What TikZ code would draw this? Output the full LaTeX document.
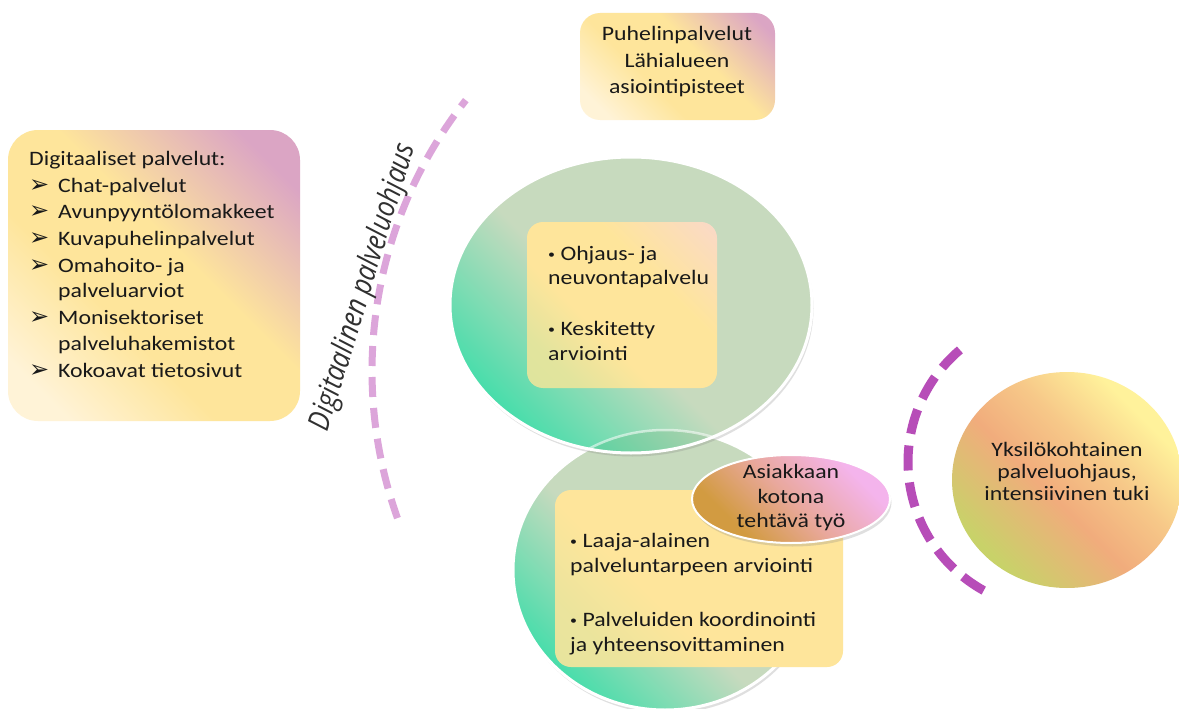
\documentclass[tikz,border=0pt]{standalone}
\usepackage{fontspec}
\setmainfont{Carlito}[FakeStretch=1.16]
\newfontfamily\dejavu{DejaVu Sans}
\newfontfamily\arcfont{Open Sans}[FakeStretch=0.85]
\usetikzlibrary{shadows}
\definecolor{sage}{RGB}{199,218,190}
\definecolor{mint}{RGB}{66,221,170}
\definecolor{byellow}{RGB}{254,229,155}
\definecolor{cream}{RGB}{255,243,215}
\definecolor{bpink}{RGB}{219,165,196}
\definecolor{peach}{RGB}{250,217,200}
\definecolor{arcA}{RGB}{220,165,218}
\definecolor{arcB}{RGB}{183,77,184}
\definecolor{asigold}{RGB}{210,155,65}
\definecolor{asimid}{RGB}{233,168,156}
\definecolor{asipink}{RGB}{244,180,236}
\definecolor{ryellow}{RGB}{255,242,155}
\definecolor{rorange}{RGB}{241,172,124}
\definecolor{rgreen}{RGB}{200,210,105}
\definecolor{txt}{RGB}{25,25,25}
\pgfdeclareverticalshading{greensh}{100bp}{color(0bp)=(mint); color(24bp)=(mint); color(46bp)=(sage); color(100bp)=(sage)}
\pgfdeclareverticalshading{leftboxsh}{100bp}{color(0bp)=(cream); color(22bp)=(cream); color(40bp)=(byellow); color(56bp)=(byellow); color(78bp)=(bpink); color(100bp)=(bpink)}
\pgfdeclareverticalshading{topboxsh}{100bp}{color(0bp)=(cream); color(22bp)=(cream); color(40bp)=(byellow); color(58bp)=(byellow); color(80bp)=(bpink); color(100bp)=(bpink)}
\pgfdeclareverticalshading{innersh}{100bp}{color(0bp)=(byellow!80!mint); color(25bp)=(byellow!85!mint); color(40bp)=(byellow); color(62bp)=(byellow); color(85bp)=(peach); color(100bp)=(peach)}
\pgfdeclareverticalshading{lowersh}{100bp}{color(0bp)=(byellow!85!mint); color(25bp)=(byellow!90!mint); color(40bp)=(byellow); color(100bp)=(byellow)}
\pgfdeclareverticalshading{asish}{100bp}{color(0bp)=(asigold); color(30bp)=(asigold); color(50bp)=(asimid); color(72bp)=(asipink); color(100bp)=(asipink)}
\pgfdeclareverticalshading{rightsh}{100bp}{color(0bp)=(rgreen); color(26bp)=(rgreen); color(45bp)=(rorange); color(58bp)=(rorange!60!ryellow); color(72bp)=(ryellow); color(100bp)=(ryellow)}
\newcommand\fs{\fontsize{20.5}{25}\selectfont}
\newcommand\bul{\raisebox{1.5pt}{\fontsize{12}{12}\selectfont •}}
\begin{document}
\begin{tikzpicture}[x=1pt,y=-1pt,
  lbl/.style={font=\fs, text=txt, inner sep=0pt, anchor=base west},
  clbl/.style={font=\fs, text=txt, inner sep=0pt, anchor=base},
  arrowbul/.style={font=\dejavu\fontsize{24}{24}\selectfont, text=txt, inner sep=0pt, anchor=base west},
  ringline/.style={draw=white, line width=3pt},
  softshadow/.style={drop shadow={shadow xshift=1.5pt, shadow yshift=-3.5pt, opacity=0.25}}]
\useasboundingbox (0,0) rectangle (1179,709);
\fill[white] (0,0) rectangle (1179,709);

% left box
\shade[shading=leftboxsh, shading angle=-45, rounded corners=30pt] (8,130) rectangle (300,421);
\node[lbl] (head) at (29,165) {Digitaaliset palvelut:};
\foreach \yy/\t [count=\i] in {192/Chat-palvelut, 218/Avunpyyntölomakkeet, 245/Kuvapuhelinpalvelut, 272/Omahoito- ja, 324/Monisektoriset, 377/Kokoavat tietosivut} {
  \node[arrowbul] (ab\i) at (29,\yy) {➢};
  \node[lbl] (it\i) at (58,\yy) {\t};
}
\node[lbl] (cont1) at (58,297) {palveluarviot};
\node[lbl] (cont2) at (58,350) {palveluhakemistot};

% top box
\shade[shading=topboxsh, shading angle=-45, rounded corners=20pt] (580,13) rectangle (775,120);
\node[clbl] (t1) at (677,41) {Puhelinpalvelut};
\node[clbl] (t2) at (677,67) {Lähialueen};
\node[clbl] (t3) at (677,93) {asiointipisteet};

% left dashed arc and its label
\draw[arcA, line width=7pt, dash pattern=on 20pt off 11pt, dash phase=12pt] (810,371) ++(218.2:438) arc[start angle=218.2, end angle=160.1, radius=438];
\node[rotate=73, font=\arcfont\itshape\fontsize{30}{30}\selectfont, text=txt!90, inner sep=0pt] (dpo) at (364,287) {Digitaalinen palveluohjaus};

% right dashed arc
\draw[arcB, line width=9pt, dash pattern=on 25pt off 12pt] (1055,462) ++(229.7:147) arc[start angle=229.7, end angle=118, radius=147];

% lower circle
\shade[shading=greensh, shading angle=-45, softshadow] (665,570) ellipse [x radius=152, y radius=140];
\draw[ringline] (665,570) ellipse [x radius=152, y radius=140];
% upper circle
\shade[shading=greensh, shading angle=-45, softshadow] (631,305) ellipse [x radius=181, y radius=148];
\begin{scope}
  \clip (631,305) ellipse [x radius=181, y radius=148];
  \fill[black!60!green, opacity=0.08] (665,570) ellipse [x radius=152, y radius=140];
  \draw[white, opacity=0.55, line width=2.5pt] (665,570) ellipse [x radius=152, y radius=140];
\end{scope}
\draw[ringline] (631,305) ellipse [x radius=181, y radius=148];

% upper inner box
\shade[shading=innersh, shading angle=-45, rounded corners=16pt] (527,222) rectangle (717,388);
\node[lbl] (u1) at (548,260) {\bul\ Ohjaus- ja};
\node[lbl] (u2) at (548,284) {neuvontapalvelu};
\node[lbl] (u3) at (548,335) {\bul\ Keskitetty};
\node[lbl] (u4) at (548,360) {arviointi};

% lower box
\shade[shading=lowersh, shading angle=-45, rounded corners=16pt] (555,490) rectangle (843,667);
\node[lbl] (l1) at (570,547) {\bul\ Laaja-alainen};
\node[lbl] (l2) at (570,572) {palveluntarpeen arviointi};
\node[lbl] (l3) at (570,626) {\bul\ Palveluiden koordinointi};
\node[lbl] (l4) at (570,651) {ja yhteensovittaminen};

% Asiakkaan ellipse
\shade[shading=asish, shading angle=-45, softshadow] (791,499) ellipse [x radius=99, y radius=44];
\draw[draw=white, line width=2pt] (791,499) ellipse [x radius=99, y radius=44];
\node[clbl] (a1) at (791,478) {Asiakkaan};
\node[clbl] (a2) at (791,503) {kotona};
\node[clbl] (a3) at (791,527) {tehtävä työ};

% right circle
\shade[shading=rightsh, shading angle=-45] (1067,480) ellipse [x radius=115, y radius=108];
\node[clbl] (r1) at (1067,456) {Yksilökohtainen};
\node[clbl] (r2) at (1067,478) {palveluohjaus,};
\node[clbl] (r3) at (1067,500) {intensiivinen tuki};
\end{tikzpicture}
\end{document}
